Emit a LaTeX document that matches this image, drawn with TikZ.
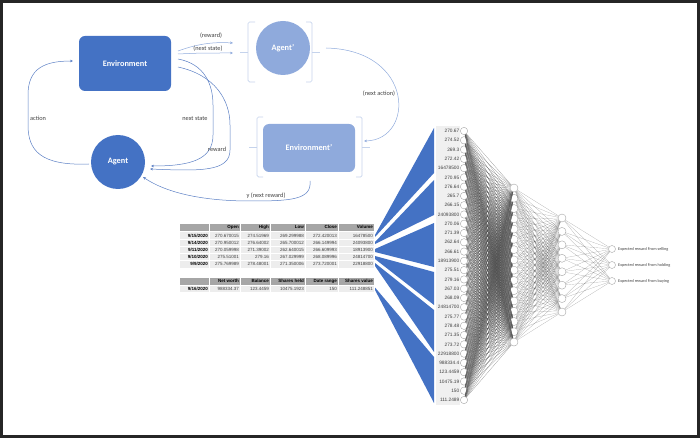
\documentclass[tikz,border=0pt]{standalone}
\usepackage{fontspec}
\setmainfont{Carlito}
\newfontfamily\numfont{Liberation Sans}
\usetikzlibrary{arrows.meta}

\definecolor{deepblue}{HTML}{4472C4}
\definecolor{softblue}{HTML}{8FAADC}
\definecolor{handleblue}{HTML}{C5D3EC}
\definecolor{flowblue}{HTML}{5B7FC4}
\definecolor{labgray}{HTML}{404040}
\definecolor{headgray}{HTML}{A6A6A6}
\definecolor{bandgray}{HTML}{EDEDED}
\definecolor{colgray}{HTML}{F0F0F0}
\definecolor{framegray}{HTML}{262626}

\tikzset{
  envbox/.style={fill=deepblue, rounded corners=6pt, minimum width=92pt, minimum height=55pt, text=white, font=\fontsize{8.3}{9}\selectfont\bfseries},
  agentdisc/.style={circle, fill=deepblue, minimum size=54pt, inner sep=0pt, text=white, font=\fontsize{8.3}{9}\selectfont\bfseries},
  envghost/.style={envbox, fill=softblue, minimum height=48pt},
  agentghost/.style={agentdisc, fill=softblue},
  handle/.style={draw=handleblue, line width=0.7pt, rounded corners=1.5pt},
  flow/.style={draw=flowblue, line width=0.5pt, -{Stealth[length=3pt,width=2.6pt]}},
  ghostflow/.style={flow, draw=softblue},
  lab/.style={text=labgray, inner sep=0pt, font=\fontsize{6.3}{7}\selectfont},
  hdr/.style={anchor=east, inner sep=1pt, font=\numfont\fontsize{4.5}{5}\selectfont\bfseries},
  cell/.style={anchor=east, inner sep=1pt, text=labgray, font=\numfont\fontsize{4.5}{5}\selectfont},
  wedge/.style={fill=deepblue},
  inlab/.style={anchor=east, inner sep=0.5pt, text=labgray, font=\numfont\fontsize{4.8}{5}\selectfont},
  neuron/.style={circle, draw=gray!70, fill=white, line width=0.4pt, minimum size=7.4pt, inner sep=0pt},
  syn/.style={draw=black!70, line width=0.18pt, opacity=0.7},
  outlab/.style={anchor=west, inner sep=0pt, text=labgray, font=\fontsize{4.2}{5}\selectfont},
}

\newcommand{\tabhead}[7]{%
  \node[hdr] (#2d) at (209,#1) {};
  \node[hdr] (#2a) at (240,#1) {#3};
  \node[hdr] (#2b) at (270,#1) {#4};
  \node[hdr] (#2c) at (305,#1) {#5};
  \node[hdr] (#2e) at (338,#1) {#6};
  \node[hdr] (#2f) at (374,#1) {#7};
}
\newcommand{\tabrow}[8]{%
  \node[hdr] (#2d) at (209,#1) {#3};
  \node[cell] (#2a) at (240,#1) {#4};
  \node[cell] (#2b) at (270,#1) {#5};
  \node[cell] (#2c) at (305,#1) {#6};
  \node[cell] (#2e) at (338,#1) {#7};
  \node[cell] (#2f) at (374,#1) {#8};
}

\begin{document}
\begin{tikzpicture}[x=1pt,y=-1pt,font=\small]
\useasboundingbox (0,0) rectangle (700,438);
\draw[line width=3pt,framegray] (1.5,1.5) rectangle (698.5,436.5);

\begin{scope}
\node[envbox] (env) at (125,63.5) {Environment};
\node[agentdisc] (agent) at (118,162) {Agent};
\node[agentghost] (agentp) at (283,48) {Agent’};
\node[envghost] (envp) at (309,148) {Environment’};

\draw[handle] (255,22) -- (248,22) -- (248,82) -- (255,82);
\draw[handle] (248,52) -- (240,52);
\draw[handle] (306,22) -- (312,22) -- (312,82) -- (306,82);
\draw[handle] (312,52) -- (320,52);
\draw[handle] (263,117) -- (257,117) -- (257,177) -- (263,177);
\draw[handle] (257,147) -- (249,147);
\draw[handle] (356,117) -- (362,117) -- (362,177) -- (356,177);
\draw[handle] (362,147) -- (370,147);

\coordinate (a0) at (89,164);
\coordinate (a1) at (73,61);
\coordinate (ns0) at (178,59);
\coordinate (ns1) at (151,166);
\coordinate (rw0) at (178,67);
\coordinate (rw1) at (150,169);
\coordinate (yr0) at (310,181);
\coordinate (yr1) at (143,177);
\coordinate (pr0) at (178,51);
\coordinate (pr1) at (233,43);
\coordinate (pn0) at (178,54);
\coordinate (pn1) at (233,53);
\coordinate (na0) at (326,48);
\coordinate (na1) at (364,141);

\draw[flow] (a0) .. controls (40,166) and (28,150) .. (28,125) -- (28,95) .. controls (28,68) and (45,61) .. (a1);
\draw[flow] (ns0) .. controls (205,64) and (213,85) .. (213,105) -- (213,135) .. controls (213,160) and (190,166) .. (ns1);
\draw[flow] (rw0) .. controls (215,75) and (230,100) .. (230,125) -- (230,150) .. controls (230,172) and (200,171) .. (rw1);
\draw[flow] (yr0) .. controls (312,200) and (290,201) .. (250,201) .. controls (200,201) and (165,192) .. (yr1);
\draw[ghostflow] (pr0) .. controls (200,43) and (215,42) .. (pr1);
\draw[ghostflow] (pn0) .. controls (200,53) .. (pn1);
\draw[ghostflow] (na0) .. controls (415,50) and (415,140) .. (na1);

\node[lab] (lact) at (38,118) {action};
\node[lab] (lns) at (195,119) {next state};
\node[lab] (lrw) at (217,149) {reward};
\node[lab] (lyr) at (266,196) {y (next reward)};
\node[lab] (lpr) at (211,36) {(reward)};
\node[lab] (lpn) at (208,48.5) {(next state)};
\node[lab] (lna) at (379,94) {(next action)};
\end{scope}

\begin{scope}
\fill[headgray] (180,223.5) rectangle (374,231);
\fill[bandgray] (180,232) rectangle (374,267.5);
\fill[headgray] (180,277.5) rectangle (374,284.5);
\fill[bandgray] (180,285.5) rectangle (374,291.5);
\foreach \y in {239.5,246.5,253.5,260.5}
  \draw[white,line width=0.6pt] (180,\y) -- (374,\y);
\foreach \x in {209.5,240.5,270.5,305.5,338.5} {
  \draw[white,line width=0.6pt] (\x,223.5) -- (\x,267.5);
  \draw[white,line width=0.6pt] (\x,277.5) -- (\x,291.5);
}
\tabhead{227.3}{hA}{Open}{High}{Low}{Close}{Volume}
\tabrow{236}{rA}{9/15/2020}{270.670015}{274.51969}{269.299988}{272.420013}{16478500}
\tabrow{243}{rB}{9/14/2020}{270.950012}{276.64002}{265.700012}{266.149994}{24093800}
\tabrow{250}{rC}{9/11/2020}{270.059998}{271.39002}{262.640015}{266.609993}{18913900}
\tabrow{257}{rD}{9/10/2020}{275.51001}{279.16}{267.029999}{268.089996}{24814700}
\tabrow{264}{rE}{9/9/2020}{275.769989}{278.48001}{271.350006}{273.720001}{22918800}
\tabhead{281}{hB}{Net worth}{Balance}{Shares held}{Date range}{Shares value}
\tabrow{288.5}{rF}{9/16/2020}{988334.37}{123.4459}{10475.1923}{150}{111.248851}
\end{scope}

\begin{scope}
\fill[colgray] (436,126) rectangle (460,405);
\fill[wedge] (rAf.east) ++(1,-1) -- (434,128) -- (434,173) -- ++(-59,64) -- cycle;
\fill[wedge] (rBf.east) ++(1,-1) -- (434,180) -- (434,215) -- ++(-59,29) -- cycle;
\fill[wedge] (rCf.east) ++(1,-1) -- (434,223) -- (434,267) -- ++(-59,-15) -- cycle;
\fill[wedge] (rDf.east) ++(1,-1) -- (434,272) -- (434,305) -- ++(-59,-46) -- cycle;
\fill[wedge] (rEf.east) ++(1,-1) -- (434,310) -- (434,352) -- ++(-59,-86) -- cycle;
\fill[wedge] (rFf.east) ++(1,-1) -- (434,357) -- (434,403) -- ++(-59,-113) -- cycle;

\foreach \v [count=\i] in {270.67,274.52,269.3,272.42,16478500,270.95,276.64,265.7,266.15,24093800,270.06,271.39,262.64,266.61,18913900,275.51,279.16,267.03,268.09,24814700,275.77,278.48,271.35,273.72,22918800,988334.4,123.4459,10475.19,150,111.2489} {
  \node[neuron] (i\i) at (464,{131+(\i-1)*9.276}) {};
  \node[inlab] (l\i) at (460,{131+(\i-1)*9.276}) {\v};
}
\foreach \j in {1,...,16}
  \node[neuron, minimum size=8pt] (h\j) at (514,{188+(\j-1)*10.27}) {};
\foreach \j in {1,...,8}
  \node[neuron, minimum size=8pt] (g\j) at (562,{218+(\j-1)*13.43}) {};
\node[neuron, minimum size=7pt] (o1) at (612,249) {};
\node[neuron, minimum size=7pt] (o2) at (612,265) {};
\node[neuron, minimum size=7pt] (o3) at (612,281) {};

\foreach \i in {1,...,30}
  \foreach \j in {1,...,16}
    \draw[syn] (i\i) -- (h\j);
\foreach \i in {1,...,16}
  \foreach \j in {1,...,8}
    \draw[syn, opacity=0.5] (h\i) -- (g\j);
\foreach \i in {1,...,8}
  \foreach \j in {1,2,3}
    \draw[syn, opacity=0.5] (g\i) -- (o\j);

\node[outlab] (t1) at (618,249) {Expected reward From selling};
\node[outlab] (t2) at (618,265) {Expected reward From holding};
\node[outlab] (t3) at (618,281) {Expected reward From buying};
\end{scope}

\end{tikzpicture}
\end{document}
